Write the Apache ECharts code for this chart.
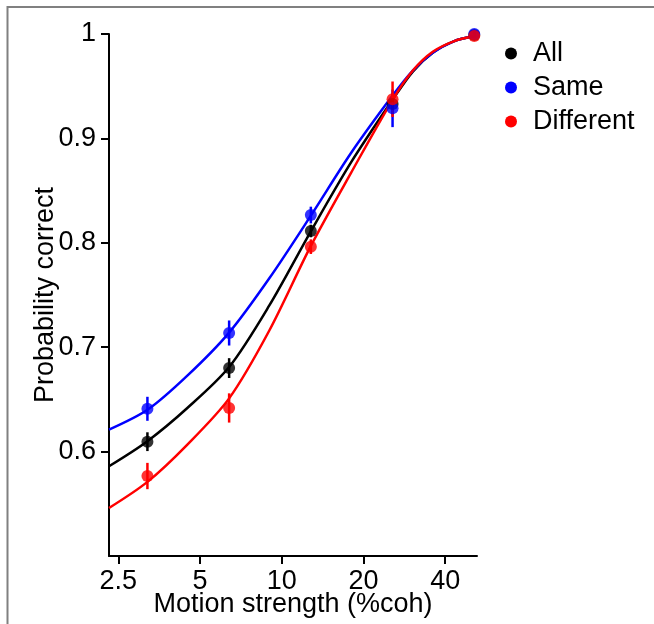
<!DOCTYPE html>
<html>
<head>
<meta charset="utf-8">
<script src="https://cdn.jsdelivr.net/npm/echarts@6/dist/echarts.min.js"></script>
<style>
  html, body { margin: 0; padding: 0; background: #fff; }
  #chart { width: 654px; height: 624px; }
</style>
</head>
<body>
<div id="chart"></div>
<script>
// coherence levels of the measured points
var cohLevels = [3.2, 6.4, 12.8, 25.6, 51.2];

// measured proportion correct and error half-widths
var allValues = [0.6095, 0.680, 0.8113, 0.933, 0.999];
var allErrors = [0.009, 0.0095, 0.006, 0.010, 0.002];
var sameValues = [0.641, 0.7136, 0.8266, 0.9288, 1.0];
var sameErrors = [0.0115, 0.012, 0.008, 0.018, 0.002];
var diffValues = [0.5766, 0.6418, 0.7963, 0.9375, 0.998];
var diffErrors = [0.0126, 0.014, 0.007, 0.017, 0.002];

// fitted curves
var fitCoh = [2.31, 3.2, 4.5, 6.4, 9, 12.8, 18, 25.6, 30.4, 36, 43, 51.2];
var allFit = [0.586, 0.610, 0.642, 0.681, 0.740, 0.811, 0.877, 0.937, 0.964, 0.982, 0.993, 0.998];
var sameFit = [0.621, 0.640, 0.673, 0.714, 0.766, 0.826, 0.886, 0.941, 0.965, 0.982, 0.993, 0.998];
var diffFit = [0.546, 0.571, 0.607, 0.651, 0.716, 0.797, 0.867, 0.937, 0.965, 0.983, 0.993, 0.998];

// tick labels
var xTicks = [2.5, 5, 10, 20, 40];
var yTicks = [0.6, 0.7, 0.8, 0.9, 1];

var groups = [
  { name: "All", color: "#000000", values: allValues, errors: allErrors, fit: allFit },
  { name: "Same", color: "#0000ff", values: sameValues, errors: sameErrors, fit: sameFit },
  { name: "Different", color: "#ff0000", values: diffValues, errors: diffErrors, fit: diffFit }
];

var font = "Liberation Sans, Arial, sans-serif";
var fontSize = 27;

function pairs(xs, ys) {
  return xs.map(function (x, i) { return [x, ys[i]]; });
}

var series = [];
groups.forEach(function (g) {
  series.push({
    name: g.name,
    type: "line",
    data: pairs(fitCoh, g.fit),
    smooth: 0.3,
    showSymbol: false,
    lineStyle: { color: g.color, width: 2.5 },
    itemStyle: { color: g.color },
    silent: true,
    z: 2
  });
});
groups.forEach(function (g) {
  series.push({
    name: g.name,
    type: "custom",
    data: cohLevels.map(function (x, i) {
      return [x, g.values[i] - g.errors[i], g.values[i] + g.errors[i]];
    }),
    renderItem: function (params, api) {
      var p1 = api.coord([api.value(0), api.value(1)]);
      var p2 = api.coord([api.value(0), api.value(2)]);
      return {
        type: "line",
        shape: { x1: p1[0], y1: p1[1], x2: p2[0], y2: p2[1] },
        style: { stroke: g.color, lineWidth: 2.5 }
      };
    },
    encode: { x: 0, y: [1, 2] },
    silent: true,
    z: 3
  });
  series.push({
    name: g.name,
    type: "scatter",
    data: pairs(cohLevels, g.values),
    symbol: "circle",
    symbolSize: 12,
    itemStyle: { color: g.color },
    z: 4
  });
});

var chart = echarts.init(document.getElementById("chart"));
chart.setOption({
  animation: false,
  backgroundColor: "#ffffff",
  grid: { left: 109, top: 34, width: 368, height: 522 },
  legend: {
    orient: "vertical",
    left: 500,
    top: 35,
    itemGap: 7,
    itemWidth: 34,
    itemHeight: 12,
    data: groups.map(function (g) {
      return { name: g.name, icon: "circle", itemStyle: { color: g.color } };
    }),
    textStyle: { fontFamily: font, fontSize: fontSize, color: "#000" }
  },
  xAxis: {
    type: "log",
    logBase: 2,
    min: 2.31,
    max: 52.4,
    name: "Motion strength (%coh)",
    nameLocation: "middle",
    nameGap: 35,
    nameMoveOverlap: false,
    nameTextStyle: { fontFamily: font, fontSize: fontSize, color: "#000" },
    axisLine: { lineStyle: { color: "#000", width: 2 } },
    axisTick: { length: 8, lineStyle: { color: "#000", width: 2 }, customValues: xTicks },
    axisLabel: { margin: 12, fontFamily: font, fontSize: fontSize, color: "#000", customValues: xTicks },
    splitLine: { show: false },
    minorTick: { show: false }
  },
  yAxis: {
    type: "value",
    min: 0.5,
    max: 1,
    name: "Probability correct",
    nameLocation: "middle",
    nameGap: 50,
    nameMoveOverlap: false,
    nameTextStyle: { fontFamily: font, fontSize: fontSize, color: "#000" },
    axisLine: { show: true, lineStyle: { color: "#000", width: 2 } },
    axisTick: { show: true, length: 8, lineStyle: { color: "#000", width: 2 }, customValues: yTicks },
    axisLabel: { margin: 13, fontFamily: font, fontSize: fontSize, color: "#000", customValues: yTicks },
    splitLine: { show: false }
  },
  graphic: [{
    type: "polyline",
    shape: { points: [[7.5, 624], [7.5, 7], [654, 7]] },
    style: { stroke: "#808080", lineWidth: 2, fill: null },
    silent: true
  }],
  series: series
});
</script>
</body>
</html>
